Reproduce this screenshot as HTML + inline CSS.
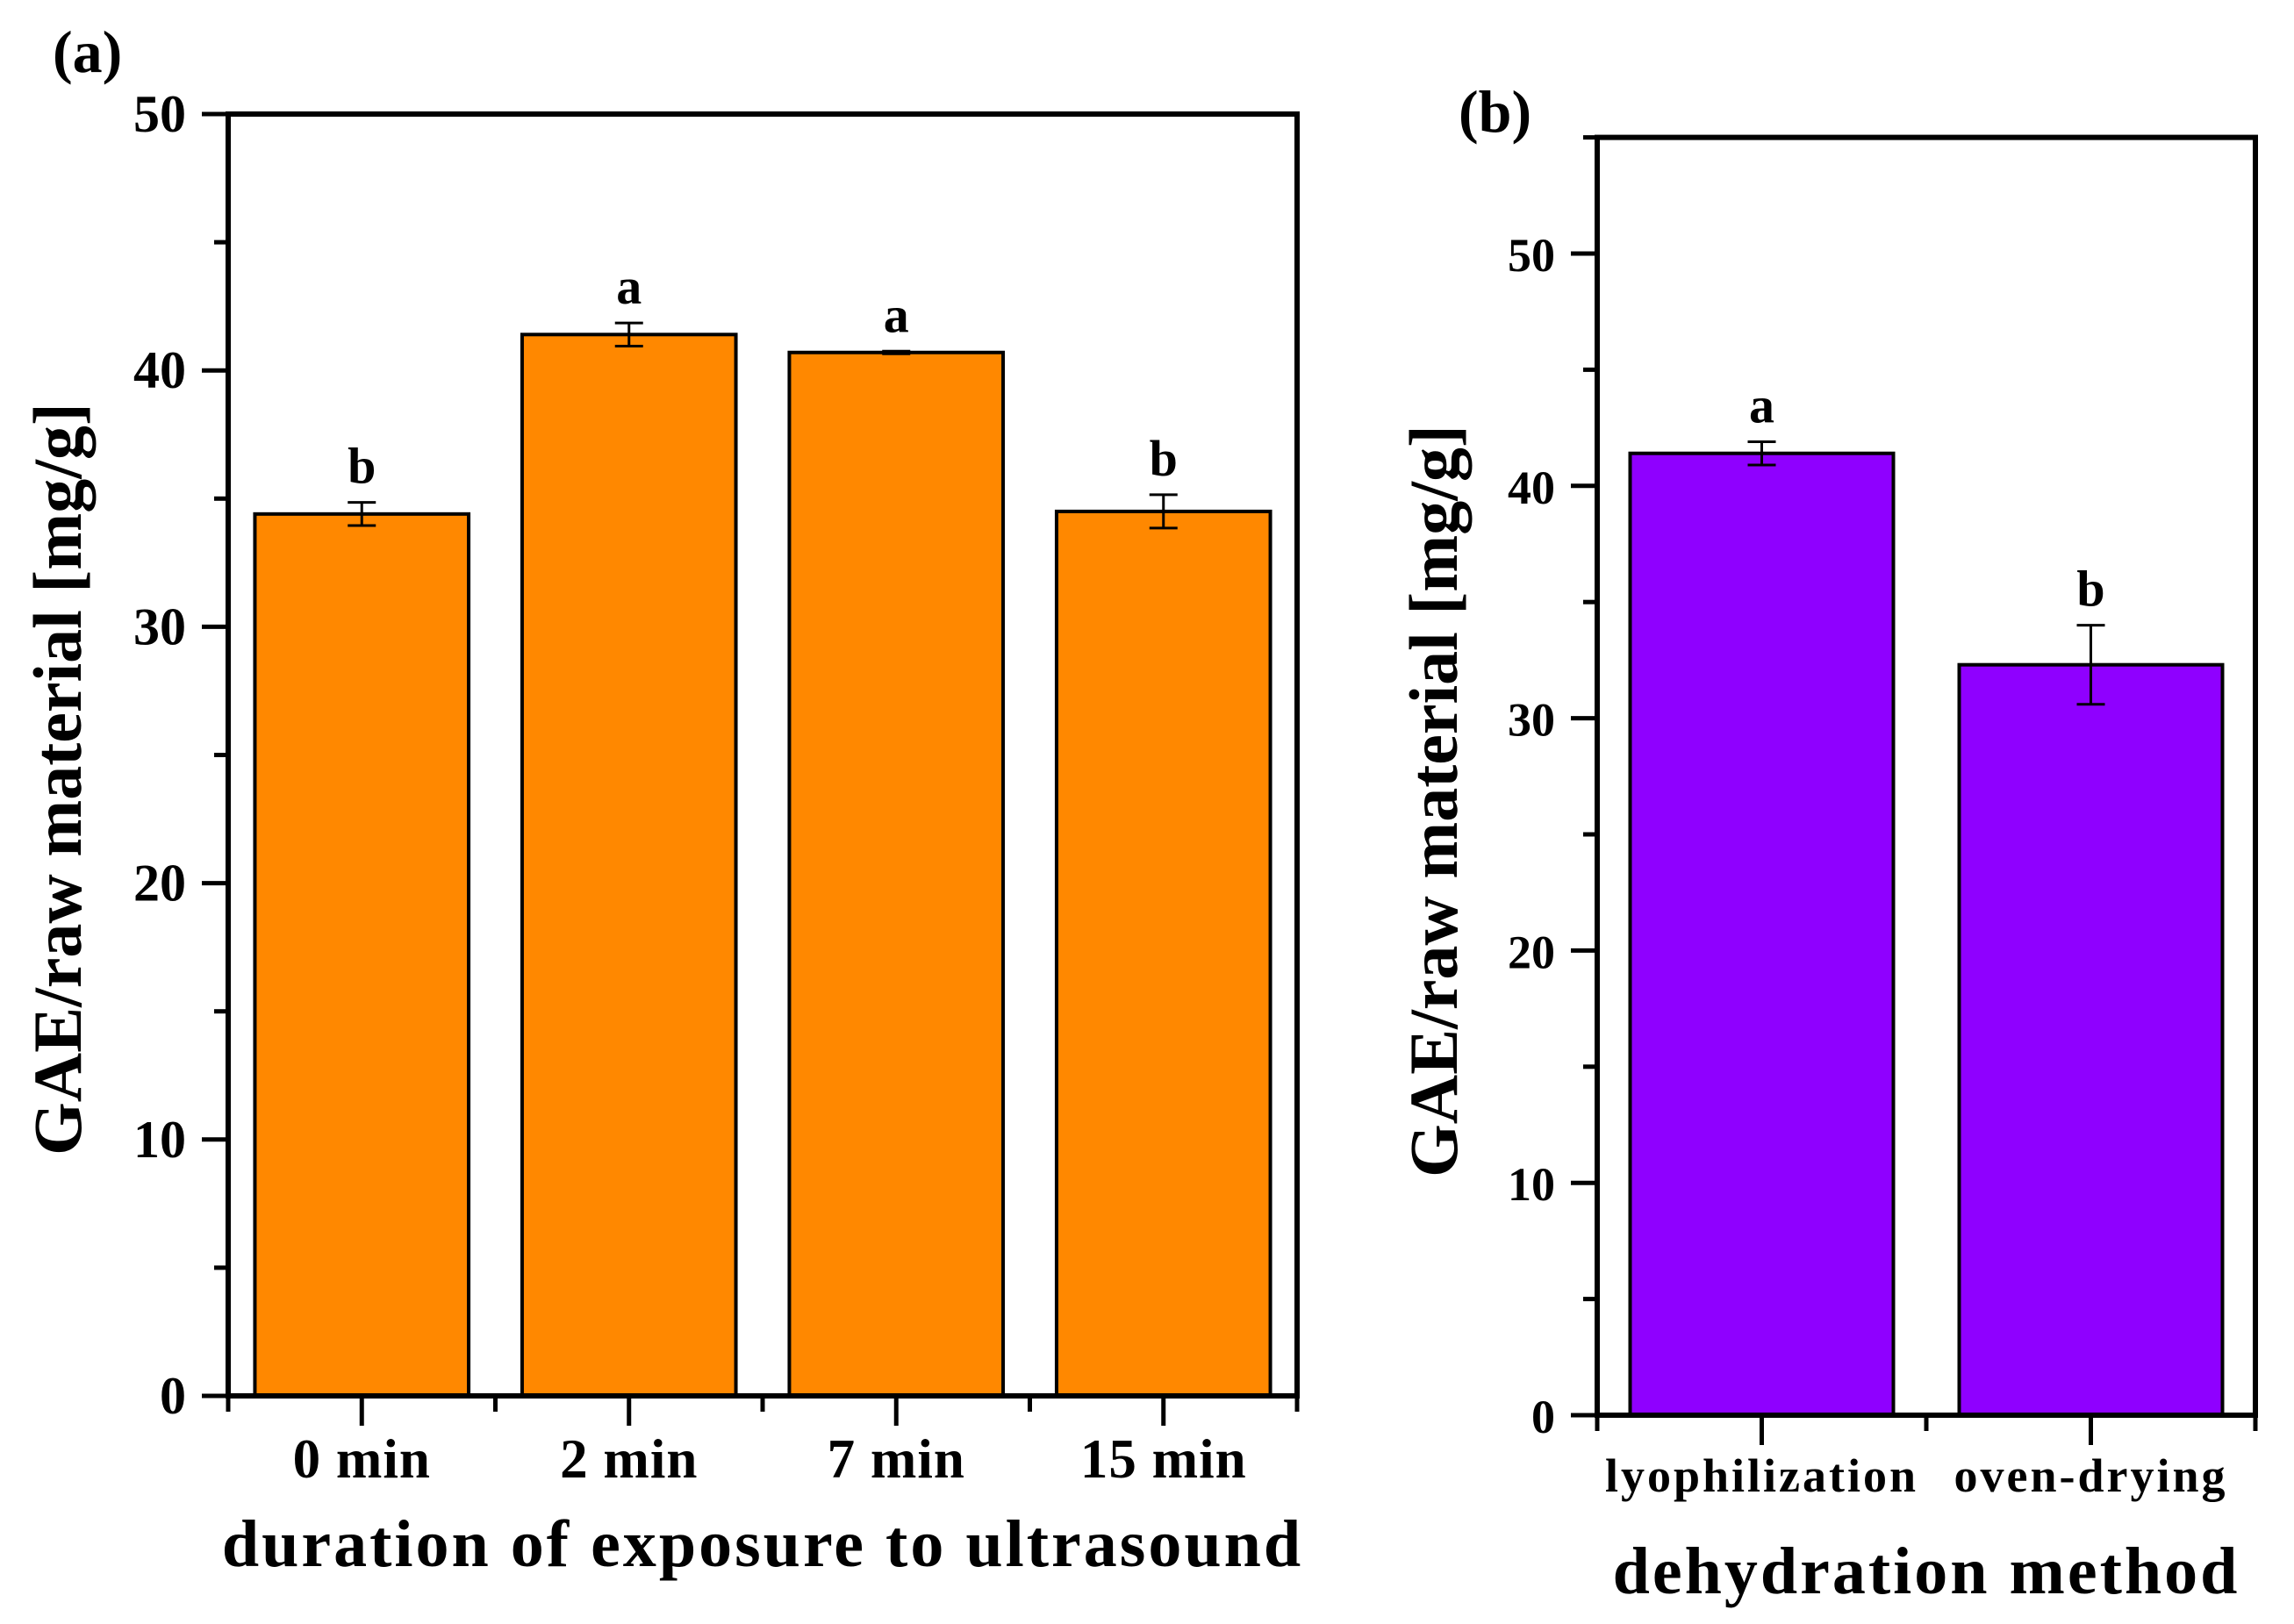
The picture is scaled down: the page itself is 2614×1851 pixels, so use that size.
<!DOCTYPE html>
<html><head><meta charset="utf-8"><style>
html,body{margin:0;padding:0;background:#fff;}
svg{display:block;}
text{font-family:"Liberation Serif",serif;font-weight:bold;fill:#000;}
</style></head><body>
<svg id="fig" width="2614" height="1851" viewBox="0 0 2614 1851">
<g id="pa"></g>
<g id="pb"></g>
</svg>
<script>
const catsA = ["0 min","2 min","7 min","15 min"];
const valsA = [34.4, 41.4, 40.7, 34.5];
const errA = [0.45, 0.45, 0.05, 0.65];
const sigA = ["b","a","a","b"];
const ticksA = [0,10,20,30,40,50];

const catsB = ["lyophilization","oven-drying"];
const valsB = [41.4, 32.3];
const errB = [0.5, 1.7];
const sigB = ["a","b"];
const ticksB = [0,10,20,30,40,50];

const NS="http://www.w3.org/2000/svg";
function mk(parent,tag,attrs){const e=document.createElementNS(NS,tag);for(const k in attrs)e.setAttribute(k,attrs[k]);parent.appendChild(e);return e;}

function panel(g,cfg){
  const {L,R,T,B,ymax,ytop,cats,vals,errs,sigs,ticks,color,tickFont,catFont,catSp,catY,title,titleY,titleFont,ylab,ylabX,ylabY,tag,tagX,tagY,yLabelRight}=cfg;
  const n=cats.length;
  const xs=i=>L+(i+0.5)*(R-L)/n;
  const ys=v=>B-v*(B-T)/ytop;
  const bw=0.8*(R-L)/n;
  for(let i=0;i<n;i++){
    const r=mk(g,"rect",{x:xs(i)-bw/2,y:ys(vals[i]),width:bw,height:ys(0)-ys(vals[i]),fill:color,stroke:"#000","stroke-width":4});
    
    
    const eg=mk(g,"g",{stroke:"#000","stroke-width":3});
    
    
    const x=xs(i),y1=ys(vals[i]+errs[i]),y2=ys(vals[i]-errs[i]);
    mk(eg,"line",{x1:x,x2:x,y1:y1,y2:y2});
    mk(eg,"line",{x1:x-16,x2:x+16,y1:y1,y2:y1});
    mk(eg,"line",{x1:x-16,x2:x+16,y1:y2,y2:y2});
    const t=mk(g,"text",{x:x,y:y1-22,"text-anchor":"middle","font-size":58});
    t.textContent=sigs[i];
    
    
  }
  const fr=mk(g,"rect",{x:L,y:ys(ymax),width:R-L,height:B-ys(ymax),fill:"none",stroke:"#000","stroke-width":6});
  
  
  const yt=mk(g,"g",{stroke:"#000","stroke-width":5});
  
  
  for(let v=0;v<=ymax+0.01;v+=5){
    const major=(v%10===0);
    mk(yt,"line",{x1:L-(major?30:16),x2:L,y1:ys(v),y2:ys(v)});
  }
  for(const v of ticks){
    const t=mk(g,"text",{x:yLabelRight,y:ys(v)+20,"text-anchor":"end","font-size":tickFont});
    t.textContent=v;
    
    
  }
  const xt=mk(g,"g",{stroke:"#000","stroke-width":5});
  
  
  for(let i=0;i<n;i++) mk(xt,"line",{x1:xs(i),x2:xs(i),y1:B,y2:B+34});
  for(let i=0;i<=n;i++){const x=L+i*(R-L)/n;mk(xt,"line",{x1:x,x2:x,y1:B,y2:B+18});}
  for(let i=0;i<n;i++){
    const t=mk(g,"text",{x:xs(i),y:catY,"text-anchor":"middle","font-size":catFont,"letter-spacing":catSp});
    t.textContent=cats[i];
    
    
  }
  const xt2=mk(g,"text",{x:(L+R)/2,y:titleY,"text-anchor":"middle","font-size":titleFont,"letter-spacing":3});
  xt2.textContent=title;
  
  
  const yl=mk(g,"text",{x:0,y:0,"text-anchor":"middle","font-size":78,transform:`translate(${ylabX},${ylabY}) rotate(-90)`});
  yl.textContent=ylab;
  
  
  const tg=mk(g,"text",{x:tagX,y:tagY,"font-size":68});
  tg.textContent=tag;
  
  
}

panel(document.getElementById('pa'),{L:260,R:1478,T:130,B:1591,ymax:50,ytop:50,cats:catsA,vals:valsA,errs:errA,sigs:sigA,ticks:ticksA,color:"#FF8800",tickFont:60,catFont:63,catSp:1,catY:1684,title:"duration of exposure to ultrasound",titleY:1785,titleFont:76,ylab:"GAE/raw material [mg/g]",ylabX:92,ylabY:888,tag:"(a)",tagX:60,tagY:82,yLabelRight:212});
panel(document.getElementById('pb'),{L:1820,R:2570,T:289,B:1613,ymax:55,ytop:50,cats:catsB,vals:valsB,errs:errB,sigs:sigB,ticks:ticksB,color:"#8F00FF",tickFont:54,catFont:54,catSp:3,catY:1700,title:"dehydration method",titleY:1816,titleFont:76,ylab:"GAE/raw material [mg/g]",ylabX:1660,ylabY:913,tag:"(b)",tagX:1662,tagY:150,yLabelRight:1772});
</script>
</body></html>
